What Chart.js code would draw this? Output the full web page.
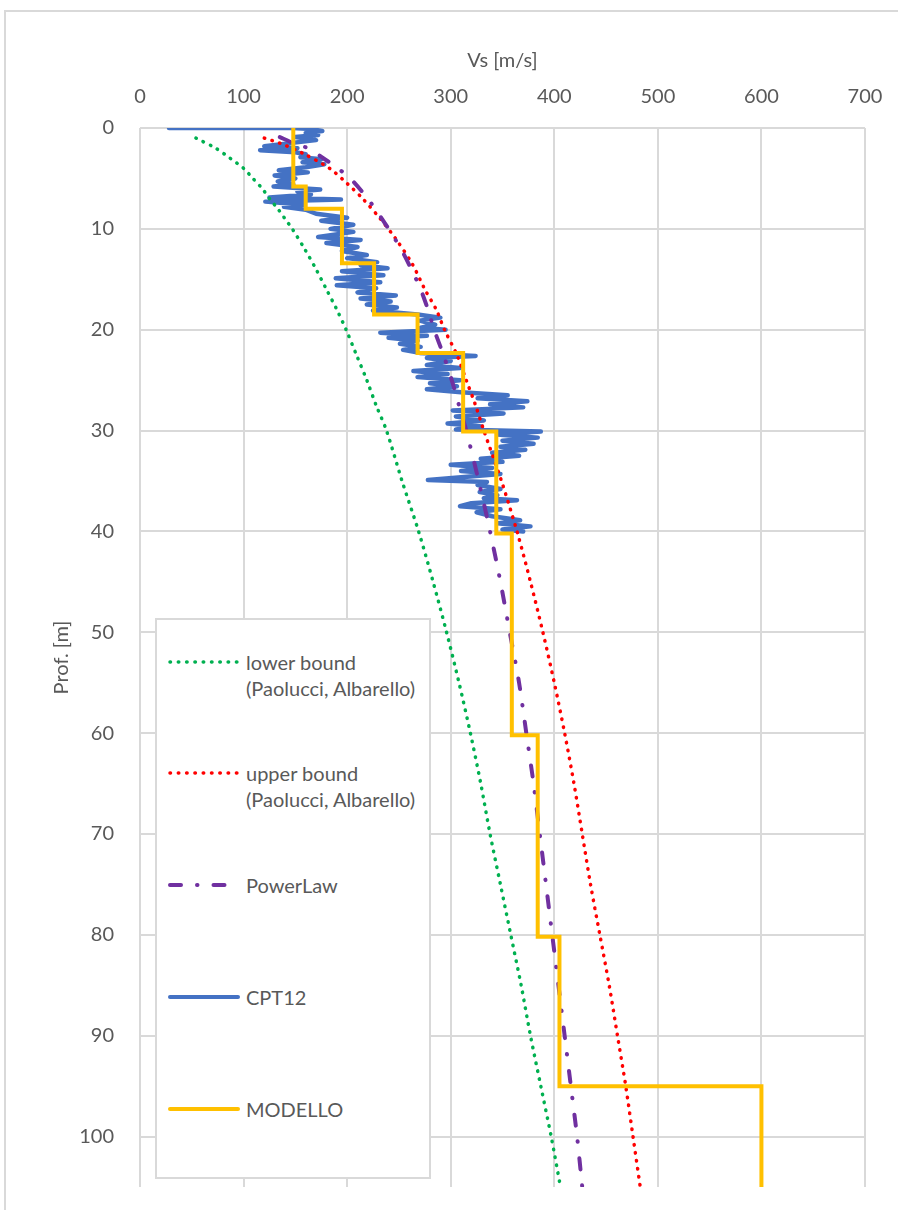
<!DOCTYPE html>
<html>
<head>
<meta charset="utf-8">
<script src="https://cdn.jsdelivr.net/npm/chart.js@4.4.1/dist/chart.umd.min.js"></script>
<style>
  html, body { margin: 0; padding: 0; background: #fff; }
  #wrap { position: relative; width: 898px; height: 1210px; overflow: hidden; }
  #frame { position: absolute; left: 4px; top: 10px; width: 1000px; height: 1300px;
           border-left: 2px solid #d9d9d9; border-top: 2px solid #d9d9d9; }
  #chart { position: absolute; left: 0; top: 0; }
  #legend { position: absolute; left: 155px; top: 618px; width: 272px; height: 557px;
            border: 2px solid #d9d9d9; background: #fff;
            font-family: Lato, sans-serif; font-size: 20px; color: #595959; }
  .item svg { position: absolute; left: 11px; }
  .item span { position: absolute; left: 89px; white-space: nowrap; line-height: 26px; }
</style>
</head>
<body>
<div id="wrap">
  <div id="frame"></div>
  <canvas id="chart" width="898" height="1210"></canvas>
  <div id="legend"></div>
</div>
<script>
// tick labels
const xTicks = [0, 100, 200, 300, 400, 500, 600, 700];
const yTicks = [0, 10, 20, 30, 40, 50, 60, 70, 80, 90, 100];

// lower bound (Paolucci, Albarello)
const lowDepth = [1, 2, 3, 4, 5, 6, 7, 8, 9, 10, 12, 14, 16, 18, 20, 22.5, 25, 27.5, 30, 35, 40, 45, 50, 55, 60, 65, 70, 75, 80, 85, 90, 95, 100, 105];
const lowVs = [54, 73, 87, 100, 109, 118, 125, 133, 140, 147, 159, 170, 180, 190, 199, 209, 219, 228, 238, 253, 269, 283, 296, 308, 319, 329, 338, 348, 358, 368, 377, 387, 397, 406];

// upper bound (Paolucci, Albarello)
const upDepth = [1, 1.5, 2.5, 4, 5.5, 7, 9, 11, 13.5, 16, 18, 20, 22.5, 25, 27.5, 30, 35, 40, 45, 50, 55, 60, 65, 70, 75, 80, 85, 90, 95, 100, 105];
const upVs = [120, 135, 157, 183, 200, 215, 232, 247, 263, 275, 286, 294, 306, 315, 324, 332, 349, 364, 377, 389, 400, 410, 419, 427, 435, 444, 453, 461, 469, 476, 483];

// PowerLaw
const powDepth = [0.9, 1.5, 2, 3, 4, 5, 6.5, 8, 10, 12, 14, 16, 18, 20, 22.5, 25, 27.5, 30, 35, 40, 45, 50, 55, 60, 65, 70, 75, 80, 85, 90, 95, 100, 105];
const powVs = [135, 148, 162, 177, 191, 203, 216, 227, 240, 252, 262, 271, 278, 284, 293, 301, 308, 315, 327, 338, 348, 357, 366, 373, 380, 386, 392, 398, 404, 410, 416, 422, 427];

// CPT12
const cptDepth = [0, 0, 0.1, 0.3, 0.5, 0.7, 0.9, 1.2, 1.5, 1.8, 2.0, 2.2, 2.4, 2.6, 2.9, 3.1, 3.4, 3.6, 3.9, 4.2,
  4.4, 4.7, 5.0, 5.3, 5.6, 5.8, 6.1, 6.3, 6.6, 6.9, 7.1, 7.3, 7.6, 7.8, 8.1, 8.5, 8.9, 9.2, 9.6, 10.0,
  10.3, 10.8, 11.1, 11.4, 11.8, 12.2, 12.6, 12.9, 13.3, 13.6, 13.9, 14.2, 14.6, 14.9, 15.3, 15.6, 15.9, 16.3, 16.6, 16.9,
  17.2, 17.5, 17.8, 18.1, 18.5, 18.8, 19.1, 19.5, 19.8, 20.0, 20.3, 20.6, 20.8, 21.1, 21.4, 21.7, 22.0, 22.3, 22.6, 22.8,
  23.1, 23.5, 23.8, 24.1, 24.4, 24.7, 25.0, 25.3, 25.6, 25.9, 26.2, 26.5, 26.8, 27.1, 27.4, 27.7, 28.0, 28.3, 28.6, 29.0,
  29.3, 29.6, 29.9, 30.1, 30.4, 30.7, 31.0, 31.3, 31.6, 31.9, 32.2, 32.5, 32.8, 33.1, 33.4, 33.7, 34.0, 34.3, 34.6, 34.9,
  35.1, 35.4, 35.8, 36.1, 36.4, 36.7, 36.9, 37.2, 37.5, 37.8, 38.1, 38.5, 38.9, 39.2, 39.5, 39.8, 40.0];
const cptVs = [28, 148, 165, 176, 160, 172, 150, 170, 145, 120, 152, 116, 150, 160, 155, 175, 157, 178, 160, 134,
  162, 130, 150, 133, 148, 129, 174, 152, 165, 125, 194, 121, 158, 139, 160, 170, 200, 175, 206, 184,
  206, 172, 213, 180, 210, 195, 219, 200, 229, 213, 239, 195, 235, 189, 232, 190, 228, 210, 247, 213,
  242, 219, 248, 225, 268, 290, 270, 285, 271, 295, 232, 277, 240, 268, 251, 271, 254, 270, 324, 277,
  300, 277, 309, 264, 297, 268, 309, 280, 306, 277, 310, 355, 326, 374, 338, 370, 302, 351, 305, 332,
  297, 330, 305, 387, 345, 384, 350, 380, 348, 372, 340, 366, 329, 350, 300, 340, 310, 348, 313, 278,
  335, 326, 348, 328, 345, 332, 364, 320, 309, 348, 325, 340, 367, 345, 377, 350, 370];

// MODELLO (layers)
const modTop = [0, 5.8, 8.0, 13.4, 18.5, 22.3, 30.1, 40.2, 60.2, 80.2, 95];
const modBottom = [5.8, 8.0, 13.4, 18.5, 22.3, 30.1, 40.2, 60.2, 80.2, 95, 105];
const modVs = [148, 160, 195, 226, 268, 312, 344, 359, 384, 405, 600];

function pts(vs, depth) {
  return vs.map((v, i) => ({ x: v, y: depth[i] }));
}
const modPts = [];
modVs.forEach((v, i) => {
  modPts.push({ x: v, y: modTop[i] });
  modPts.push({ x: v, y: modBottom[i] });
});

Chart.defaults.font.family = 'Lato, sans-serif';
Chart.defaults.font.size = 20;
Chart.defaults.color = '#595959';

// pas de marge auto pour les labels aux bords
function noPad(s) {
  s.paddingTop = 0; s.paddingBottom = 0; s.paddingLeft = 0; s.paddingRight = 0;
}

const ctx = document.getElementById('chart').getContext('2d');
new Chart(ctx, {
  type: 'scatter',
  data: {
    datasets: [
      { label: 'MODELLO', data: modPts, showLine: true, borderColor: '#FFC000', borderWidth: 4,
        pointRadius: 0, tension: 0, order: 0 },
      { label: 'PowerLaw', data: pts(powVs, powDepth), showLine: true, borderColor: '#7030A0', borderWidth: 4,
        borderDash: [11, 16, 0.5, 16.5], borderCapStyle: 'round', pointRadius: 0, tension: 0.3, order: 1 },
      { label: 'upper bound', data: pts(upVs, upDepth), showLine: true, borderColor: '#FF0000', borderWidth: 3.5,
        borderDash: [0.5, 7.5], borderCapStyle: 'round', pointRadius: 0, tension: 0.3, order: 2 },
      { label: 'lower bound', data: pts(lowVs, lowDepth), showLine: true, borderColor: '#00B050', borderWidth: 3.5,
        borderDash: [0.5, 7.5], borderCapStyle: 'round', pointRadius: 0, tension: 0.3, order: 3 },
      { label: 'CPT12', data: pts(cptVs, cptDepth), showLine: true, borderColor: '#4472C4', borderWidth: 4.5,
        borderJoinStyle: 'round', borderCapStyle: 'round', pointRadius: 0, tension: 0, order: 4 }
    ]
  },
  options: {
    responsive: false,
    animation: false,
    layout: { padding: { left: 0, top: 0, right: 33, bottom: 23 } },
    plugins: { legend: { display: false }, tooltip: { enabled: false } },
    scales: {
      x: {
        type: 'linear', position: 'top', min: 0, max: 700,
        afterBuildTicks: s => { s.ticks = xTicks.map(v => ({ value: v })); },
        afterFit: s => { s.height = 128; noPad(s); },
        grid: { color: '#d9d9d9', lineWidth: 2, drawTicks: false },
        border: { display: false },
        ticks: { padding: 19 },
        title: { display: true, text: 'Vs [m/s]', padding: { top: 49, bottom: 0 } }
      },
      y: {
        type: 'linear', position: 'left', reverse: true, min: 0, max: 105,
        afterBuildTicks: s => { s.ticks = yTicks.map(v => ({ value: v })); },
        afterFit: s => { s.width = 140; noPad(s); },
        grid: { color: '#d9d9d9', lineWidth: 2, drawTicks: false },
        border: { display: false },
        ticks: { padding: 26 },
        title: { display: true, text: 'Prof. [m]', padding: { top: 50, bottom: 0 } }
      }
    }
  }
});

// legend drawn as html inside the plot
const legendItems = [
  { text: ['lower bound', '(Paolucci, Albarello)'], color: '#00B050', dash: '0.5 7.8', w: 3.5, top: 42 },
  { text: ['upper bound', '(Paolucci, Albarello)'], color: '#FF0000', dash: '0.5 7.8', w: 3.5, top: 153 },
  { text: ['PowerLaw'], color: '#7030A0', dash: '11 16 0.5 16', w: 4, top: 265 },
  { text: ['CPT12'], color: '#4472C4', dash: '', w: 4, top: 377 },
  { text: ['MODELLO'], color: '#FFC000', dash: '', w: 4, top: 489 }
];
const leg = document.getElementById('legend');
legendItems.forEach(it => {
  const d = document.createElement('div');
  d.className = 'item';
  d.innerHTML = '<svg width="74" height="10" style="top:' + (it.top - 5) + 'px">' +
    '<line x1="2" y1="5" x2="70" y2="5" stroke="' + it.color + '" stroke-width="' + it.w +
    '" stroke-linecap="round"' + (it.dash ? ' stroke-dasharray="' + it.dash + '"' : '') + '/></svg>' +
    '<span style="top:' + (it.top - 13) + 'px">' + it.text.join('<br>') + '</span>';
  leg.appendChild(d);
});
</script>
</body>
</html>
